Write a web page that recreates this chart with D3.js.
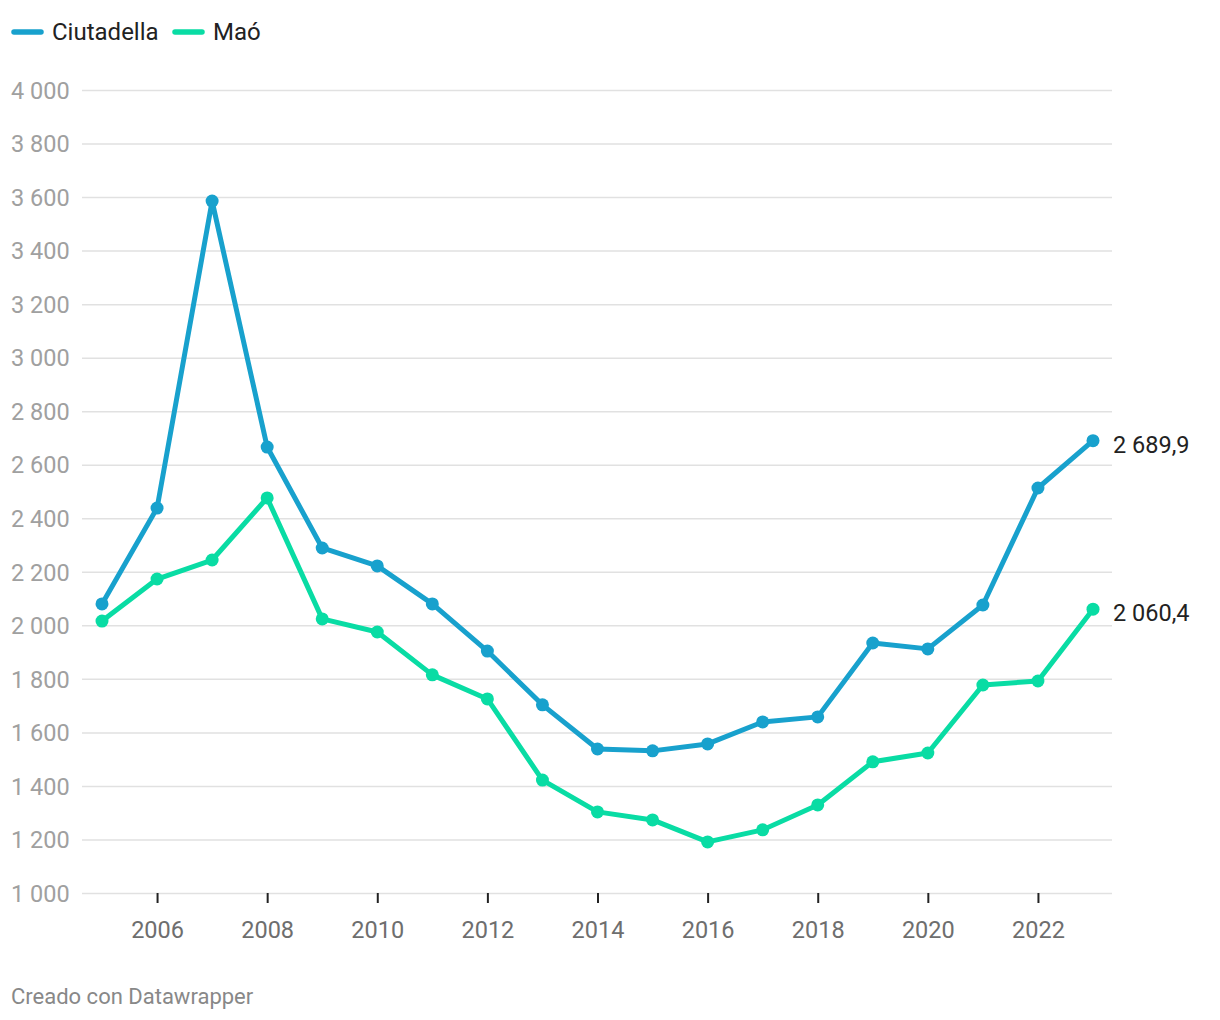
<!DOCTYPE html>
<html><head><meta charset="utf-8">
<script src="https://cdn.jsdelivr.net/npm/d3@7"></script>
<style>body{margin:0;background:#fff;font-family:Roboto,"Noto Sans",sans-serif;}</style>
</head><body><svg id="c" width="1220" height="1020"></svg>
<script>
const years = [2005,2006,2007,2008,2009,2010,2011,2012,2013,2014,2015,2016,2017,2018,2019,2020,2021,2022,2023];
const ciutadella = [2080,2438,3585,2666,2289,2222,2080,1904,1703,1538,1531,1557,1639,1658,1934,1912,2076,2513,2689.9];
const mao = [2016,2173,2244,2476,2024,1975,1815,1725,1422,1303,1273,1191,1236,1329,1490,1523,1777,1792,2060.4];
const yTicks = [1000,1200,1400,1600,1800,2000,2200,2400,2600,2800,3000,3200,3400,3600,3800,4000];
const xTicks = [2006,2008,2010,2012,2014,2016,2018,2020,2022];
const seriesNames = ["Ciutadella","Maó"];
const colors = ["#18a1cd","#09dca4"];

const svg = d3.select("#c");
const x = d3.scaleLinear().domain([2005,2023]).range([102,1093]);
const y = d3.scaleLinear().domain([1000,4000]).range([893,90]);
const fmt = v => d3.format(",")(v).replace(/,/g," ");
const fmtDec = v => d3.format(",.1f")(v).replace(/,/g," ").replace(".",",");

const yAxis = svg.append("g").attr("transform","translate(82,0)")
  .call(d3.axisRight(y).tickValues(yTicks).tickSize(1030).tickFormat(fmt));
yAxis.select(".domain").remove();
yAxis.selectAll(".tick line").attr("stroke","#e1e1e1").attr("stroke-width",1.5);
yAxis.selectAll(".tick text").attr("x",-71).attr("text-anchor","start")
  .attr("fill","#a0a0a0").style("font-size","23.5px").style("font-family","Roboto").attr("dy","0.35em");

const xAxis = svg.append("g").attr("transform","translate(0,893)")
  .call(d3.axisBottom(x).tickValues(xTicks).tickSize(10).tickPadding(18).tickFormat(d3.format("d")));
xAxis.select(".domain").remove();
xAxis.selectAll(".tick line").attr("stroke","#222").attr("stroke-width",2);
xAxis.selectAll(".tick text").attr("fill","#6e6e6e").style("font-size","23.5px").style("font-family","Roboto");

const data = [ciutadella, mao];
const line = d3.line().x((d,i)=>x(years[i])).y(d=>y(d));
data.forEach((vals,k)=>{
  svg.append("path").datum(vals).attr("d",line).attr("fill","none")
    .attr("stroke",colors[k]).attr("stroke-width",5).attr("stroke-linejoin","round").attr("stroke-linecap","round");
  svg.append("g").selectAll("circle").data(vals).join("circle")
    .attr("cx",(d,i)=>x(years[i])).attr("cy",d=>y(d)).attr("r",6.5).attr("fill",colors[k]);
  const last = vals[vals.length-1];
  svg.append("text").attr("x",x(years[years.length-1])+20).attr("y",y(last)+4).attr("dy","0.35em")
    .attr("fill","#222").style("font-size","23.5px").style("font-family","Roboto").text(fmtDec(last));
});

const legendX = [12,173];
seriesNames.forEach((n,k)=>{
  svg.append("line").attr("x1",legendX[k]+2).attr("x2",legendX[k]+29).attr("y1",32).attr("y2",32)
    .attr("stroke",colors[k]).attr("stroke-width",5.5).attr("stroke-linecap","round");
  svg.append("text").attr("x",legendX[k]+40).attr("y",32).attr("dy","0.35em")
    .attr("fill","#222").style("font-size","24px").style("font-family","Roboto").text(n);
});

svg.append("text").attr("x",11).attr("y",1004).attr("fill","#888")
  .style("font-size","22px").style("font-family","Roboto").text("Creado con Datawrapper");
</script></body></html>
